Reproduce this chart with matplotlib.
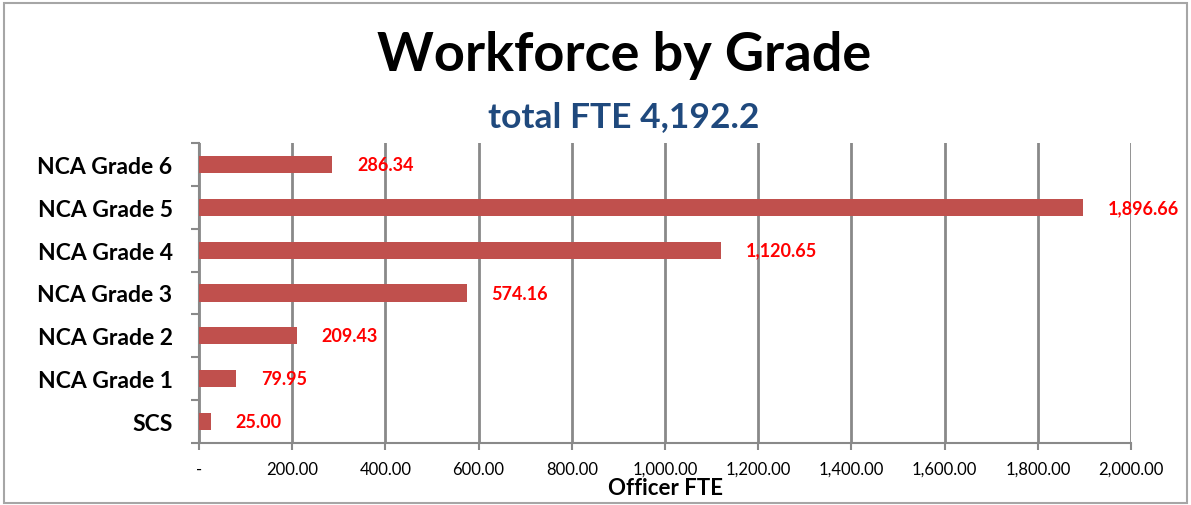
import matplotlib
matplotlib.use('Agg')
import matplotlib.pyplot as plt
from matplotlib.patches import Rectangle
import numpy as np

grades = ['SCS', 'NCA Grade 1', 'NCA Grade 2', 'NCA Grade 3',
          'NCA Grade 4', 'NCA Grade 5', 'NCA Grade 6']
fte = [25.00, 79.95, 209.43, 574.16, 1120.65, 1896.66, 286.34]
xticks = [0, 200, 400, 600, 800, 1000, 1200, 1400, 1600, 1800, 2000]
title = 'Workforce by Grade'
subtitle = 'total FTE 4,192.2'

plt.rcParams['font.family'] = ['Lato', 'DejaVu Sans']
grid_col = '#898989'

fig = plt.figure(figsize=(11.91, 5.06), dpi=100)
ax = fig.add_axes([199/1191, 1 - 444/506, (1131-199)/1191, 300/506])

y = np.arange(len(grades))
ax.barh(y, fte, height=0.4, color='#C0504D', zorder=3)
for yi, v in zip(y, fte):
    ax.annotate('{:,.2f}'.format(v), xy=(v, yi), xytext=(25, 0),
                textcoords='offset pixels', va='center', ha='left',
                color='#FF0000', fontsize=13, fontweight='bold')

ax.set_xlim(0, 2000)
ax.set_ylim(-0.5, len(grades) - 0.5)
ax.set_xticks(xticks)
ax.set_xticklabels(['-'] + ['{:,.2f}'.format(t) for t in xticks[1:]], fontsize=12)
ax.set_yticks(y)
ax.set_yticklabels(grades, fontsize=16.5, fontweight='bold')
ax.set_yticks(np.arange(-0.5, len(grades)), minor=True)
ax.tick_params(axis='y', which='major', length=0, pad=19)
ax.tick_params(axis='y', which='minor', length=6, width=1.5, color=grid_col)
ax.tick_params(axis='x', length=5, width=1.5, color=grid_col, pad=8)
ax.grid(axis='x', color=grid_col, linewidth=2, zorder=0)

for s in ['top', 'right']:
    ax.spines[s].set_visible(False)
for s in ['left', 'bottom']:
    ax.spines[s].set_color(grid_col)
    ax.spines[s].set_linewidth(1.5)

fig.text(624/1191, 1 - 55/506, title, ha='center', va='center',
         fontsize=39, fontweight='bold', color='black')
fig.text(624/1191, 1 - 117/506, subtitle, ha='center', va='center',
         fontsize=25.5, fontweight='bold', color='#1F497D')
fig.text(665/1191, 1 - 489/506, 'Officer FTE', ha='center', va='center',
         fontsize=16, fontweight='bold')

fig.patches.append(Rectangle((4/1191, 2/506), 1183/1191, 500/506,
                             transform=fig.transFigure, fill=False,
                             edgecolor='#A6A6A6', linewidth=1.5))

fig.savefig('out.png')
plt.close(fig)
